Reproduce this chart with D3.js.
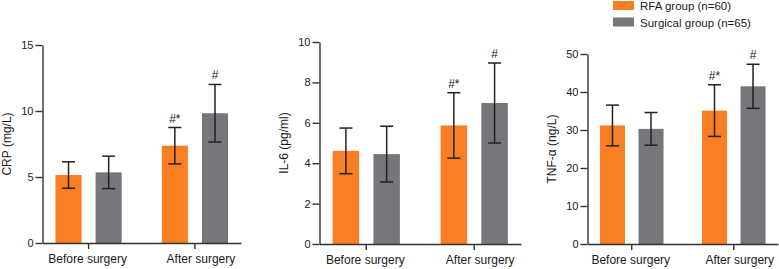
<!DOCTYPE html>
<html lang="en">
<head>
    <meta charset="UTF-8">
    <title>Inflammatory markers: RFA vs surgical group</title>
    <script src="https://d3js.org/d3.v7.min.js"></script>
    <style>
        body {
            margin: 0;
            background-color: #fff;
        }
        svg text {
            font-family: "Liberation Sans", Arial, sans-serif;
            fill: #1a1a1a;
        }
        .axis path, .axis line {
            stroke: #333;
            stroke-width: 1.4px;
        }
        .err {
            stroke: #222;
            stroke-width: 1.5px;
        }
    </style>
</head>
<body>
    <div id="chart"></div>

    <script>
        const groups = ["Before surgery", "After surgery"];
        const seriesNames = ["RFA group (n=60)", "Surgical group (n=65)"];
        const colors = ["#F97E24", "#77767B"];

        // means per series: [before, after]
        const crpRFA = [5.15, 7.37];
        const crpSurg = [5.35, 9.83];
        const crpRFAsd = [1.0, 1.38];
        const crpSurgSd = [1.23, 2.18];

        const il6RFA = [4.61, 5.87];
        const il6Surg = [4.45, 6.98];
        const il6RFAsd = [1.13, 1.62];
        const il6SurgSd = [1.38, 1.98];

        const tnfRFA = [31.2, 35.1];
        const tnfSurg = [30.3, 41.5];
        const tnfRFAsd = [5.35, 6.8];
        const tnfSurgSd = [4.3, 5.8];

        // significance marks above bars
        const marksRFA = ["", "#*"];
        const marksSurg = ["", "#"];

        const crpTicks = [0, 5, 10, 15];
        const il6Ticks = [0, 2, 4, 6, 8, 10];
        const tnfTicks = [0, 10, 20, 30, 40, 50];

        const w = 779;
        const h = 269;

        const svg = d3.select("#chart")
            .append("svg")
            .attr("width", w)
            .attr("height", h);

        const panels = [
            { label: "CRP (mg/L)", rfa: crpRFA, surg: crpSurg, rfaSd: crpRFAsd, surgSd: crpSurgSd, ticks: crpTicks, x0: 42.5, x1: 241, top: 45, base: 243 },
            { label: "IL-6 (pg/ml)", rfa: il6RFA, surg: il6Surg, rfaSd: il6RFAsd, surgSd: il6SurgSd, ticks: il6Ticks, x0: 319.5, x1: 521, top: 42, base: 244 },
            { label: "TNF-\u03b1 (ng/L)", rfa: tnfRFA, surg: tnfSurg, rfaSd: tnfRFAsd, surgSd: tnfSurgSd, ticks: tnfTicks, x0: 587.5, x1: 778, top: 54, base: 244 }
        ];

        panels.forEach(p => {
            const g = svg.append("g");

            const x = d3.scaleBand()
                .domain(groups)
                .range([p.x0, p.x1])
                .paddingInner(0.377)
                .paddingOuter(0.122);

            const xInner = d3.scaleBand()
                .domain(seriesNames)
                .range([0, x.bandwidth()])
                .paddingInner(0.35);

            const y = d3.scaleLinear()
                .domain([p.ticks[0], p.ticks[p.ticks.length - 1]])
                .range([p.base, p.top]);

            const rows = [];
            groups.forEach((grp, i) => {
                rows.push({ grp, s: seriesNames[0], v: p.rfa[i], sd: p.rfaSd[i], mark: marksRFA[i], c: colors[0] });
                rows.push({ grp, s: seriesNames[1], v: p.surg[i], sd: p.surgSd[i], mark: marksSurg[i], c: colors[1] });
            });

            g.selectAll(".bar")
                .data(rows)
                .enter()
                .append("rect")
                .attr("class", "bar")
                .attr("x", d => x(d.grp) + xInner(d.s))
                .attr("y", d => y(d.v))
                .attr("width", xInner.bandwidth())
                .attr("height", d => y(0) - y(d.v))
                .attr("fill", d => d.c);

            const cx = d => x(d.grp) + xInner(d.s) + xInner.bandwidth() / 2;
            const cap = 6.5;

            const err = g.selectAll(".errg")
                .data(rows)
                .enter()
                .append("g");

            err.append("line").attr("class", "err")
                .attr("x1", cx).attr("x2", cx)
                .attr("y1", d => y(d.v - d.sd)).attr("y2", d => y(d.v + d.sd));
            err.append("line").attr("class", "err")
                .attr("x1", d => cx(d) - cap).attr("x2", d => cx(d) + cap)
                .attr("y1", d => y(d.v + d.sd)).attr("y2", d => y(d.v + d.sd));
            err.append("line").attr("class", "err")
                .attr("x1", d => cx(d) - cap).attr("x2", d => cx(d) + cap)
                .attr("y1", d => y(d.v - d.sd)).attr("y2", d => y(d.v - d.sd));

            err.filter(d => d.mark)
                .append("text")
                .attr("x", cx)
                .attr("y", d => y(d.v + d.sd) - 5)
                .attr("text-anchor", "middle")
                .style("font-size", "12px")
                .text(d => d.mark);

            const xAxis = g.append("g")
                .attr("class", "axis")
                .attr("transform", `translate(0, ${p.base})`)
                .call(d3.axisBottom(x).tickSize(6).tickPadding(5).tickSizeOuter(0));
            xAxis.selectAll("text")
                .style("font-size", "12px")
                .attr("dx", (d, i) => i === 1 ? 6 : -1);

            const yAxis = g.append("g")
                .attr("class", "axis")
                .attr("transform", `translate(${p.x0}, 0)`)
                .call(d3.axisLeft(y).tickValues(p.ticks).tickSize(7).tickPadding(2).tickSizeOuter(0));
            yAxis.selectAll("text")
                .style("font-size", "11px");

            g.append("text")
                .attr("transform", `translate(${p.x0 - 35}, ${(p.top + p.base) / 2}) rotate(-90)`)
                .attr("text-anchor", "middle")
                .attr("dominant-baseline", "middle")
                .style("font-size", "12px")
                .text(p.label);
        });

        // legend
        const legend = svg.append("g").attr("transform", "translate(613, 1)");
        seriesNames.forEach((name, i) => {
            legend.append("rect")
                .attr("x", 0)
                .attr("y", i * 16.5)
                .attr("width", 21)
                .attr("height", 9)
                .attr("fill", colors[i]);
            legend.append("text")
                .attr("x", 27)
                .attr("y", i * 16.5 + 9)
                .style("font-size", "11.5px")
                .text(name);
        });
    </script>
</body>
</html>
